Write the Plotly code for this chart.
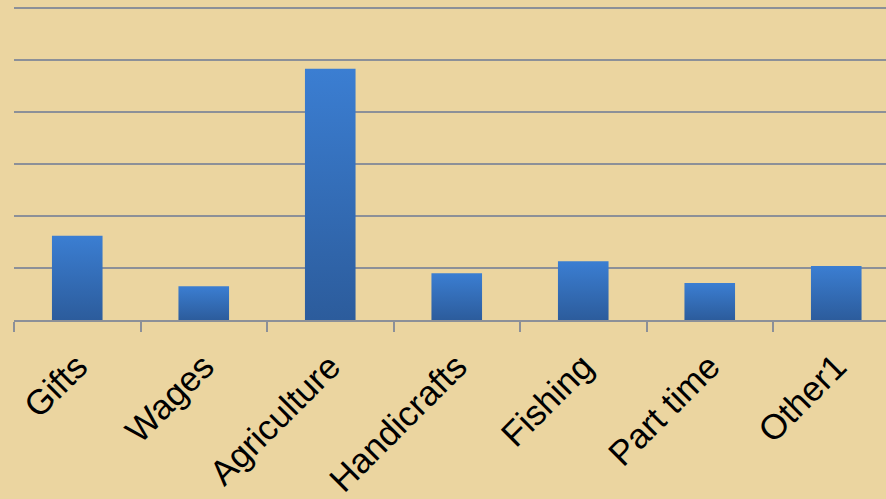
import plotly.graph_objects as go

categories = ["Gifts", "Wages", "Agriculture", "Handicrafts", "Fishing", "Part time", "Other1"]
values = [16.2, 6.5, 48.3, 9.0, 11.3, 7.1, 10.4]

BAR_TOP = "#3B7ED2"
BAR_BOTTOM = "#2C5C9C"
GRID = "#8C9098"
BG = "#EBD5A0"

half = 0.2
fig = go.Figure()
for i, (cat, v) in enumerate(zip(categories, values)):
    fig.add_trace(go.Scatter(
        x=[i - half, i + half, i + half, i - half, i - half],
        y=[0, 0, v, v, 0],
        mode="lines",
        fill="toself",
        line=dict(width=0, color=BAR_TOP),
        fillgradient=dict(type="vertical", colorscale=[[0, BAR_BOTTOM], [1, BAR_TOP]]),
        name=cat,
        hoverinfo="text",
        text=f"{cat}: {v}",
        showlegend=False,
    ))

W, H = 886, 499
left, right_edge = 14, 886
cat_w = 126.5
xmax = -0.5 + (right_edge - left) / cat_w
top_m, bot_m = 6, 179
plot_h = H - top_m - bot_m
ymax = 60 * plot_h / 312.0

fig.update_layout(
    width=W, height=H,
    margin=dict(l=left, r=0, t=top_m, b=bot_m, autoexpand=False),
    paper_bgcolor=BG,
    plot_bgcolor=BG,
    showlegend=False,
    xaxis=dict(
        range=[-0.5, xmax],
        tickmode="array",
        tickvals=list(range(len(categories))),
        ticktext=categories,
        ticks="",
        tickangle=-45,
        ticklabelstandoff=10,
        tickfont=dict(family="Liberation Sans, Arial", size=35, color="#000000"),
        showgrid=False,
        zeroline=False,
        showline=True,
        linecolor=GRID,
        linewidth=2,
        automargin=False,
        minor=dict(tickmode="array", tickvals=[k - 0.5 for k in range(len(categories) + 1)],
                   ticks="outside", ticklen=10, tickwidth=2, tickcolor=GRID, showgrid=False),
    ),
    yaxis=dict(
        range=[0, ymax],
        tickmode="array",
        tickvals=[0, 10, 20, 30, 40, 50, 60],
        showgrid=True,
        gridcolor=GRID,
        gridwidth=2,
        showticklabels=False,
        ticks="",
        zeroline=False,
        showline=False,
        automargin=False,
    ),
)

fig.write_html(
    "out.html",
    config={"displayModeBar": False},
    post_script="document.body.style.margin='0';document.body.style.background='" + BG + "';",
)
